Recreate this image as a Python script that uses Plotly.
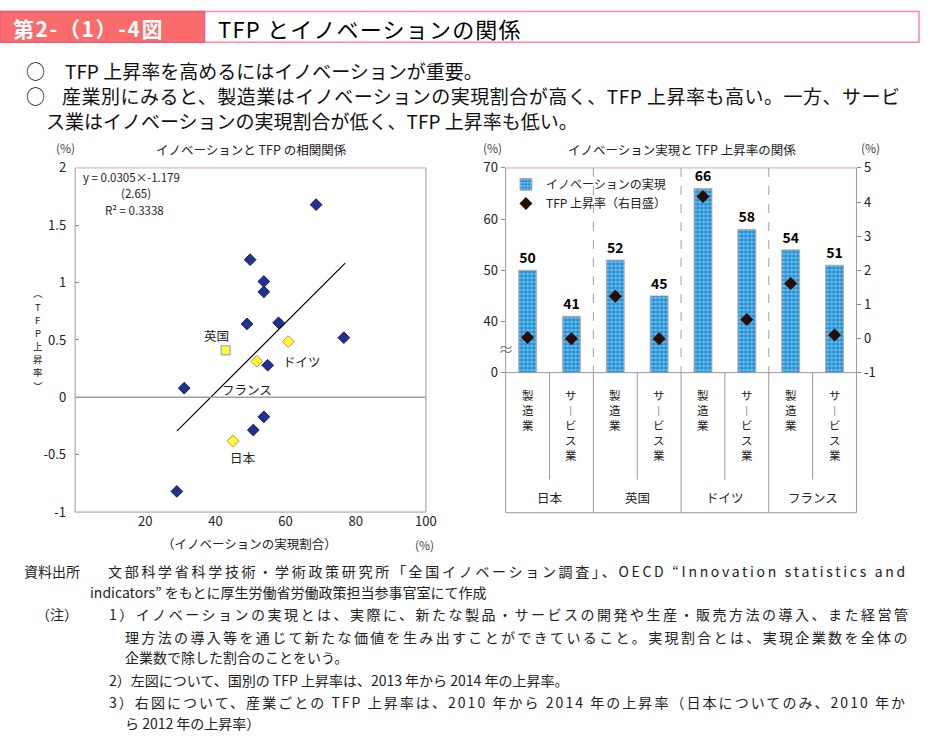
import plotly.graph_objects as go

W, H = 932, 756
FONT = "Noto Sans CJK JP"


def X(px):
    return px / W


def Y(py):
    return 1 - py / H


# ---------------- data ----------------
# left: innovation share (%) vs TFP growth (%) by country
other_x = [68.7, 49.9, 53.8, 53.8, 49.0, 58.0, 76.6, 54.9, 31.1, 53.8, 50.8, 29.0]
other_y = [1.68, 1.20, 1.01, 0.92, 0.64, 0.65, 0.52, 0.28, 0.08, -0.17, -0.285, -0.82]
country_names = ["日本", "英国", "ドイツ", "フランス"]
country_x = [45.0, 42.9, 60.8, 51.8]
country_y = [-0.38, 0.41, 0.485, 0.315]
reg_slope = 0.0305
reg_intercept = -1.179
reg_x = [29.0, 77.0]
left_y_ticks = [-1, -0.5, 0, 0.5, 1, 1.5, 2]
left_y_labels = ["-1", "-0.5", "0", "0.5", "1", "1.5", "2"]
left_x_ticks = [20, 40, 60, 80, 100]

# right: innovation realization (%) and TFP growth (%) by industry
bar_countries = ["日本", "英国", "ドイツ", "フランス"]
bar_industries = ["製造業", "サービス業", "製造業", "サービス業",
                  "製造業", "サービス業", "製造業", "サービス業"]
innovation = [50, 41, 52, 45, 66, 58, 54, 51]
tfp_growth = [0.03, -0.01, 1.24, -0.01, 4.16, 0.56, 1.61, 0.10]
left2_ticks = [30, 40, 50, 60, 70]
left2_labels = ["0", "40", "50", "60", "70"]
right_ticks = [-1, 0, 1, 2, 3, 4, 5]
right_labels = ["-1", "0", "1", "2", "3", "4", "5"]

bar_idx = list(range(len(innovation)))

fig = go.Figure()

# ---------- left scatter ----------
fig.add_trace(go.Scatter(
    x=other_x, y=other_y, mode="markers", showlegend=False,
    marker=dict(symbol="diamond", size=9, color="#22308f",
                line=dict(color="#141c6e", width=1)),
    xaxis="x", yaxis="y", hoverinfo="skip"))
fig.add_trace(go.Scatter(
    x=[country_x[0], country_x[2], country_x[3]],
    y=[country_y[0], country_y[2], country_y[3]],
    mode="markers", showlegend=False,
    marker=dict(symbol="diamond", size=9, color="#ffff30",
                line=dict(color="#f07a5a", width=1)),
    xaxis="x", yaxis="y", hoverinfo="skip"))
fig.add_trace(go.Scatter(
    x=[country_x[1]], y=[country_y[1]], mode="markers", showlegend=False,
    marker=dict(symbol="square", size=9, color="#ffff30",
                line=dict(color="#8890d0", width=1)),
    xaxis="x", yaxis="y", hoverinfo="skip"))
fig.add_trace(go.Scatter(
    x=reg_x, y=[reg_slope * v + reg_intercept for v in reg_x],
    mode="lines", showlegend=False, line=dict(color="black", width=1.2),
    xaxis="x", yaxis="y", hoverinfo="skip"))

# ---------- right bars ----------
fig.add_trace(go.Bar(
    x=bar_idx, y=innovation, width=0.41, name="イノベーションの実現",
    marker=dict(color="#1c8fd4",
                pattern=dict(shape=".", fgcolor="#c4ecff", bgcolor="#1c8fd4",
                             size=4, solidity=0.5),
                line=dict(color="#d49a9a", width=0.8)),
    text=[str(v) for v in innovation], textposition="outside",
    textfont=dict(size=14, color="black", family=FONT, weight="bold"),
    cliponaxis=False, xaxis="x2", yaxis="y2", hoverinfo="skip"))
fig.add_trace(go.Scatter(
    x=bar_idx, y=tfp_growth, mode="markers", name="TFP 上昇率（右目盛）",
    marker=dict(symbol="diamond", size=10, color="#2a0d05"),
    xaxis="x2", yaxis="y3", hoverinfo="skip"))

shapes = []
ann = []


def txt(x, y, s, size=12.5, anchor="left", color="#222", yanchor="middle",
        ls=None, weight="normal"):
    if ls is not None:
        s = '<span style="letter-spacing:%.2fpx">%s</span>' % (ls, s)
    ann.append(dict(x=X(x), y=Y(y), xref="paper", yref="paper", text=s,
                    showarrow=False, xanchor=anchor, yanchor=yanchor,
                    font=dict(size=size, color=color, family=FONT, weight=weight)))


def line(x0, y0, x1, y1, color="#9a9a9a", width=1, dash=None):
    d = dict(type="line", xref="paper", yref="paper", x0=X(x0), y0=Y(y0),
             x1=X(x1), y1=Y(y1), line=dict(color=color, width=width))
    if dash:
        d["line"]["dash"] = dash
    shapes.append(d)


# ---------- header ----------
shapes.append(dict(type="rect", xref="paper", yref="paper", x0=X(0.5), x1=X(930),
                   y0=Y(33), y1=Y(1.5), line=dict(color="#ff86a8", width=1.5)))
shapes.append(dict(type="rect", xref="paper", yref="paper", x0=X(0.5), x1=X(207),
                   y0=Y(33), y1=Y(1.5), fillcolor="#fb6b6b",
                   line=dict(color="#e8607e", width=1.5)))
txt(11, 18, "第2-（1）-4図", size=21, color="white", ls=1.6, weight="bold")
txt(219, 18, "TFP とイノベーションの関係", size=22, color="black", ls=1.2)

# bullets
txt(36, 62, "○", size=19, anchor="center", color="#111")
txt(64, 62, "TFP 上昇率を高めるにはイノベーションが重要。", size=19, color="#111")
txt(36, 88, "○", size=19, anchor="center", color="#111")
txt(61, 88, "産業別にみると、製造業はイノベーションの実現割合が高く、TFP 上昇率も高い。一方、サービ",
    size=19, color="#111", ls=0.5)
txt(45, 113, "ス業はイノベーションの実現割合が低く、TFP 上昇率も低い。", size=19, color="#111")

# ---------- left chart decorations ----------
lx0, lx1, ly0, ly1 = 76, 431, 162, 515
line(lx0, ly1, lx1, ly1)
line(lx0, ly0, lx0, ly1)
line(lx1, ly0, lx1, ly1)
line(lx0, ly0, lx1, ly0, color="#d6a8a8")
shapes.append(dict(type="line", xref="x", yref="y", x0=0, x1=100, y0=0, y1=0,
                   line=dict(color="#a0a0a0", width=1.5)))

txt(66, 141, "(%)", size=12, anchor="center", color="#444")
txt(254, 143, "イノベーションと TFP の相関関係", size=12.5, anchor="center")
txt(82, 171, "y = 0.0305×-1.179", size=11.5)
txt(138, 188, "(2.65)", size=11.5, anchor="center")
txt(104, 205, "R² = 0.3338", size=11.5)
txt(252, 547, "（イノベーションの実現割合）", size=12.5, anchor="center")
txt(430, 548, "(%)", size=12, anchor="center", color="#444")

# vertical axis title (TFP上昇率), one character per line
ytitle_chars = ["︵", "T", "F", "P", "上", "昇", "率", "︶"]
pitch = 13.5
y_start = 338 - pitch * (len(ytitle_chars) - 1) / 2
for j, c in enumerate(ytitle_chars):
    txt(38, y_start + j * pitch, c, size=9.5, anchor="center")

# country labels
lab_pos = {"英国": (219, 334), "ドイツ": (306, 361), "フランス": (250, 389), "日本": (246, 459)}
for name in country_names:
    px_, py_ = lab_pos[name]
    txt(px_, py_, name, size=12.5, anchor="center")

# ---------- right chart decorations ----------
rx0, rx1, ry0, ry1 = 511.7, 866.7, 162, 372
tb = 515.7
line(rx0, ry0, rx1, ry0, color="#d6a8a8")
line(rx0, ry0, rx0, tb)
line(rx1, ry0, rx1, tb)
line(rx0, ry1, rx1, ry1)
line(rx0, tb, rx1, tb)
step = (rx1 - rx0) / 8
for k in [2, 4, 6]:
    xx = rx0 + k * step
    line(xx, ry0, xx, ry1, color="#a0a0a0", dash="dash")
    line(xx, ry1, xx, tb)
for k in [1, 3, 5, 7]:
    xx = rx0 + k * step
    line(xx, ry1, xx, 481.7)

txt(498, 141, "(%)", size=12, anchor="center", color="#444")
txt(881, 141, "(%)", size=12, anchor="center", color="#444")
txt(690, 143, "イノベーション実現と TFP 上昇率の関係", size=12.5, anchor="center")
txt(512, 347, "≈", size=16, anchor="center", color="#777")

vmap = {"ー": "︱"}
for i, ind in enumerate(bar_industries):
    cx = rx0 + (i + 0.5) * step
    txt(cx, 385, "<br>".join(vmap.get(c, c) for c in ind), size=11.5,
        anchor="center", yanchor="top")
for k, cn in enumerate(bar_countries):
    cx = rx0 + (2 * k + 1) * step
    txt(cx, 500.5, cn, size=12.5, anchor="center")

# ---------- footer ----------
fs = 14
txt(22, 575, "資料出所", size=fs)
txt(107, 575, "文部科学省科学技術・学術政策研究所「全国イノベーション調査」、OECD “Innovation statistics and",
    size=fs, ls=2.7)
txt(89, 597, "indicators” をもとに厚生労働省労働政策担当参事官室にて作成", size=fs)
txt(34, 620, "（注）", size=fs)
txt(108, 620, "1）イノベーションの実現とは、実際に、新たな製品・サービスの開発や生産・販売方法の導入、また経営管",
    size=fs, ls=2.5)
txt(124, 643, "理方法の導入等を通じて新たな価値を生み出すことができていること。実現割合とは、実現企業数を全体の",
    size=fs, ls=2.35)
txt(124, 664, "企業数で除した割合のことをいう。", size=fs)
txt(108, 687, "2）左図について、国別の TFP 上昇率は、2013 年から 2014 年の上昇率。", size=fs)
txt(108, 710, "3）右図について、産業ごとの TFP 上昇率は、2010 年から 2014 年の上昇率（日本についてのみ、2010 年か",
    size=fs, ls=2.05)
txt(124, 731, "ら 2012 年の上昇率）", size=fs)

tickfont = dict(size=13, color="#222", family=FONT)
fig.update_layout(
    width=W, height=H, margin=dict(l=0, r=0, t=0, b=0),
    paper_bgcolor="white", plot_bgcolor="white",
    font=dict(family=FONT, size=12, color="#222"),
    xaxis=dict(domain=[X(lx0), X(lx1)], range=[0, 100], tickvals=left_x_ticks,
               showgrid=False, zeroline=False, showline=False, ticks="",
               tickfont=tickfont, anchor="y", fixedrange=True),
    yaxis=dict(domain=[Y(ly1), Y(ly0)], range=[-1, 2], tickvals=left_y_ticks,
               ticktext=left_y_labels, showgrid=False, zeroline=False,
               showline=False, ticks="inside", ticklen=4, tickcolor="#888",
               ticklabelstandoff=8, tickfont=tickfont, anchor="x"),
    xaxis2=dict(domain=[X(rx0), X(rx1)], range=[-0.5, 7.5], showticklabels=False,
                showgrid=False, zeroline=False, showline=False, ticks="",
                anchor="y2"),
    yaxis2=dict(domain=[Y(ry1), Y(ry0)], range=[30, 70], tickvals=left2_ticks,
                ticktext=left2_labels, showgrid=False, zeroline=False,
                showline=False, ticks="outside", ticklen=4, tickcolor="#888",
                tickfont=tickfont, anchor="x2"),
    yaxis3=dict(range=[-1, 5], tickvals=right_ticks, ticktext=right_labels,
                overlaying="y2", side="right", anchor="x2", showgrid=False,
                zeroline=False, showline=False, ticks="outside", ticklen=4,
                tickcolor="#888", tickfont=tickfont),
    legend=dict(x=X(512), y=Y(164), xanchor="left", yanchor="top",
                bgcolor="rgba(0,0,0,0)", font=dict(size=12, family=FONT),
                tracegroupgap=0, itemclick=False),
    bargap=0.5,
    shapes=shapes, annotations=ann,
)

fig.write_html("out.html", config={"displayModeBar": False},
               post_script="document.body.style.margin='0px';")
